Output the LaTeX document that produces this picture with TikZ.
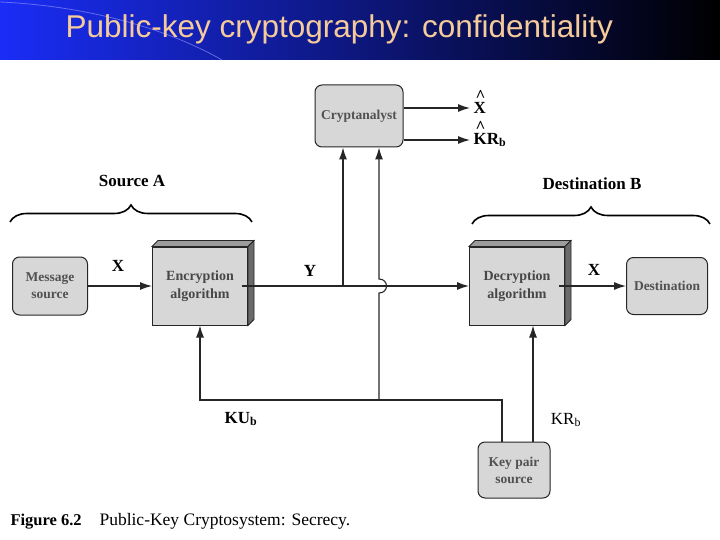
\documentclass[tikz,border=0pt]{standalone}
\usepackage{fontspec}
\setmainfont{Liberation Serif}
\newfontfamily\titlefont{Liberation Sans}
\usetikzlibrary{arrows.meta, calc, decorations.pathreplacing}
\definecolor{ink}{HTML}{262626}
\definecolor{boxface}{HTML}{D7D7D7}
\definecolor{boxtop}{HTML}{9C9C9C}
\definecolor{boxside}{HTML}{6A6A6A}
\definecolor{titletext}{HTML}{F6CB9C}
\definecolor{barleft}{HTML}{1A2DF6}
\definecolor{barmid}{HTML}{0A1AB8}

\begin{document}
\begin{tikzpicture}[
    x=1pt, y=-1pt,
    flow/.style={
      draw=ink,
      line width=1.1pt,
      -{Latex[length=12pt,width=8pt]},
    },
    pill/.style={
      draw=ink,
      fill=boxface,
      rounded corners=7pt,
      line width=1pt,
      align=center,
      inner sep=2pt,
      font=\bfseries\fontsize{13.5}{17}\selectfont,
      text=ink!80,
    },
    slab/.style={
      draw=ink,
      fill=boxface,
      line width=1pt,
      align=center,
      inner sep=2pt,
      minimum width=95pt,
      minimum height=78pt,
      font=\bfseries\fontsize{14}{18}\selectfont,
      text=ink!85,
    },
    group/.style={
      draw=black,
      line width=1.6pt,
      decorate,
      decoration={brace, amplitude=17pt},
    },
    lbl/.style={
      font=\bfseries\fontsize{17}{19}\selectfont,
      text=black,
    },
  ]

  \useasboundingbox (0,0) rectangle (720,540);

  % Title bar
  \shade[left color=barleft, middle color=barmid, right color=black] (0,0) rectangle (720,60);
  \draw[blue!40!white, opacity=0.6, line width=0.8pt] (0,2) .. controls (90,6) and (170,30) .. (222,60);
  \node[font=\titlefont\fontsize{31.5}{34}\selectfont, text=titletext, anchor=west] (title) at (62,29) {Public-key cryptography: confidentiality};

  % Boxes
  \node[pill, minimum width=88pt, minimum height=62pt] (crypt) at (359,116) {Cryptanalyst};
  \node[pill, minimum width=75pt, minimum height=58pt] (msg) at (50,286) {Message\\source};
  \node[slab] (enc) at (200,286) {Encryption\\algorithm};
  \node[slab] (dec) at (517,286) {Decryption\\algorithm};
  \node[pill, minimum width=81pt, minimum height=57pt] (dest) at (667,286) {Destination};
  \node[pill, minimum width=72pt, minimum height=56pt] (keys) at (514,470) {Key pair\\source};

  % Box depth
  \foreach \b in {enc,dec} {
    \filldraw[fill=boxtop, draw=ink, line width=0.8pt] (\b.north west) -- ++(6,-6) -- ($(\b.north east)+(6,-6)$) -- (\b.north east) -- cycle;
    \filldraw[fill=boxside, draw=ink, line width=0.8pt] (\b.north east) -- ++(6,-6) -- ($(\b.south east)+(6,-6)$) -- (\b.south east) -- cycle;
  }

  % Braces
  \draw[group] (10,222) -- (252,222);
  \draw[group] (472,224) -- (710,224);
  \node[lbl] (srcA) at (132,181) {Source A};
  \node[lbl] (dstB) at (592,184) {Destination B};

  % Main flow
  \draw[flow] (msg.east) -- (enc.west);
  \draw[flow, shorten <=-6pt] (enc.east) -- (dec.west);
  \draw[flow, shorten <=-6pt] (dec.east) -- (dest.west);
  \node[lbl] (xin) at (118,266) {X};
  \node[lbl] (ylab) at (310,271) {Y};
  \node[lbl] (xout) at (594,270) {X};

  % Cryptanalyst taps
  \coordinate (tapY) at ($(crypt.south)+(-16,0)$);
  \coordinate (tapK) at ($(crypt.south)+(20,0)$);
  \coordinate (bus) at (0,400);
  \draw[flow] (tapY |- enc.east) -- (tapY);
  \draw[flow] (tapK |- bus) -- ($(tapK |- enc.east)+(0,7)$) .. controls +(10,0) and +(10,0) .. ($(tapK |- enc.east)+(0,-7)$) -- (tapK);

  % Cryptanalyst outputs
  \node[lbl, anchor=west] (xhat) at (470,108) {\smash{\rlap{\raisebox{12pt}{\kern2pt\^{}}}}X};
  \node[lbl, anchor=west] (krhat) at (470,140) {\smash{\rlap{\raisebox{12pt}{\kern2pt\^{}}}}KR\textsubscript{b}};
  \draw[flow] (crypt.east |- xhat.west) -- (xhat.west);
  \draw[flow] (crypt.east |- krhat.west) -- (krhat.west);

  % Keys
  \coordinate (kuOut) at ($(keys.north)+(-12,0)$);
  \coordinate (krOut) at ($(keys.north)+(19,0)$);
  \draw[flow] (kuOut) -- (kuOut |- bus) -- (enc.south |- bus) -- (enc.south);
  \draw[flow] (krOut) -- (krOut |- dec.south);
  \node[lbl] (kulab) at (241,419) {KU\textsubscript{b}};
  \node[font=\fontsize{17}{19}\selectfont] (krlab) at (566,420) {KR\textsubscript{b}};

  % Caption
  \node[anchor=base west, font=\bfseries\fontsize{16.5}{18}\selectfont] (fig) at (7,525) {Figure 6.2};
  \node[anchor=base west, font=\fontsize{17.5}{19}\selectfont] (cap) at (96,525) {Public-Key Cryptosystem: Secrecy.};

\end{tikzpicture}
\end{document}
